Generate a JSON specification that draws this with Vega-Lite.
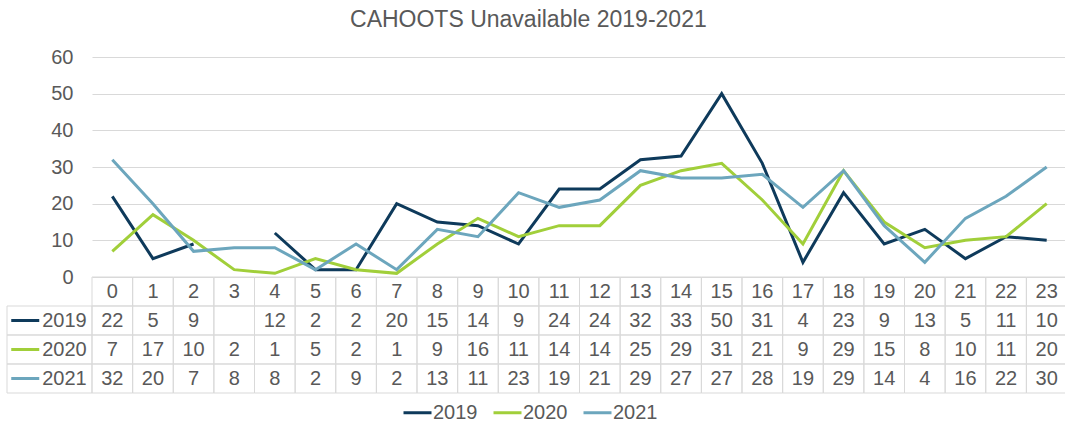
{
  "$schema": "https://vega.github.io/schema/vega-lite/v6.json",
  "padding": {"left": 5, "right": 0, "top": 9, "bottom": 0},
  "background": "white",
  "title": {"text": "CAHOOTS Unavailable 2019-2021", "fontSize": 23, "font": "Liberation Sans", "fontWeight": "normal", "color": "#595959", "anchor": "middle", "offset": 15, "dx": -8},
  "config": {"view": {"stroke": null}, "font": "Liberation Sans"},
  "datasets": {
    "d": [
      {"hour":0,"year":"2019","value":22},{"hour":1,"year":"2019","value":5},{"hour":2,"year":"2019","value":9},{"hour":3,"year":"2019","value":null},{"hour":4,"year":"2019","value":12},{"hour":5,"year":"2019","value":2},{"hour":6,"year":"2019","value":2},{"hour":7,"year":"2019","value":20},{"hour":8,"year":"2019","value":15},{"hour":9,"year":"2019","value":14},{"hour":10,"year":"2019","value":9},{"hour":11,"year":"2019","value":24},{"hour":12,"year":"2019","value":24},{"hour":13,"year":"2019","value":32},{"hour":14,"year":"2019","value":33},{"hour":15,"year":"2019","value":50},{"hour":16,"year":"2019","value":31},{"hour":17,"year":"2019","value":4},{"hour":18,"year":"2019","value":23},{"hour":19,"year":"2019","value":9},{"hour":20,"year":"2019","value":13},{"hour":21,"year":"2019","value":5},{"hour":22,"year":"2019","value":11},{"hour":23,"year":"2019","value":10},
      {"hour":0,"year":"2020","value":7},{"hour":1,"year":"2020","value":17},{"hour":2,"year":"2020","value":10},{"hour":3,"year":"2020","value":2},{"hour":4,"year":"2020","value":1},{"hour":5,"year":"2020","value":5},{"hour":6,"year":"2020","value":2},{"hour":7,"year":"2020","value":1},{"hour":8,"year":"2020","value":9},{"hour":9,"year":"2020","value":16},{"hour":10,"year":"2020","value":11},{"hour":11,"year":"2020","value":14},{"hour":12,"year":"2020","value":14},{"hour":13,"year":"2020","value":25},{"hour":14,"year":"2020","value":29},{"hour":15,"year":"2020","value":31},{"hour":16,"year":"2020","value":21},{"hour":17,"year":"2020","value":9},{"hour":18,"year":"2020","value":29},{"hour":19,"year":"2020","value":15},{"hour":20,"year":"2020","value":8},{"hour":21,"year":"2020","value":10},{"hour":22,"year":"2020","value":11},{"hour":23,"year":"2020","value":20},
      {"hour":0,"year":"2021","value":32},{"hour":1,"year":"2021","value":20},{"hour":2,"year":"2021","value":7},{"hour":3,"year":"2021","value":8},{"hour":4,"year":"2021","value":8},{"hour":5,"year":"2021","value":2},{"hour":6,"year":"2021","value":9},{"hour":7,"year":"2021","value":2},{"hour":8,"year":"2021","value":13},{"hour":9,"year":"2021","value":11},{"hour":10,"year":"2021","value":23},{"hour":11,"year":"2021","value":19},{"hour":12,"year":"2021","value":21},{"hour":13,"year":"2021","value":29},{"hour":14,"year":"2021","value":27},{"hour":15,"year":"2021","value":27},{"hour":16,"year":"2021","value":28},{"hour":17,"year":"2021","value":19},{"hour":18,"year":"2021","value":29},{"hour":19,"year":"2021","value":14},{"hour":20,"year":"2021","value":4},{"hour":21,"year":"2021","value":16},{"hour":22,"year":"2021","value":22},{"hour":23,"year":"2021","value":30}
    ]
  },
  "columns": 2,
  "spacing": 0,
  "bounds": "flush",
  "resolve": {"scale": {"color": "independent", "x": "independent", "y": "independent"}, "legend": {"color": "independent"}},
  "concat": [
    {
      "width": 85, "height": 220,
      "data": {"values": [{"t": ""}]},
      "mark": {"type": "text"},
      "encoding": {"text": {"field": "t"}}
    },
    {
      "width": 975, "height": 220,
      "data": {"name": "d"},
      "mark": {"type": "line", "strokeWidth": 3, "invalid": "break-paths-filter-domains"},
      "encoding": {
        "x": {"field": "hour", "type": "ordinal", "bandPosition": 0.5, "scale": {"type": "band", "paddingInner": 0, "paddingOuter": 0}, "axis": null},
        "y": {"field": "value", "type": "quantitative", "scale": {"domain": [0, 60], "nice": false, "zero": true},
              "axis": {"values": [0, 10, 20, 30, 40, 50, 60], "title": null, "grid": true, "gridColor": "#d9d9d9", "gridWidth": 1, "domain": false, "ticks": false, "labelPadding": 19, "labelFontSize": 20, "labelColor": "#595959", "labelFont": "Liberation Sans"}},
        "color": {"field": "year", "type": "nominal",
                  "scale": {"domain": ["2019", "2020", "2021"], "range": ["#0e3a5b", "#a1cf3a", "#6ca6bd"]},
                  "legend": {"orient": "none", "legendX": 310, "legendY": 340, "direction": "horizontal", "title": null, "symbolType": "stroke", "symbolSize": 784, "symbolStrokeWidth": 3, "labelFontSize": 20, "labelColor": "#595959", "labelFont": "Liberation Sans", "labelOffset": 0, "columnPadding": 9}}
      }
    },
    {
      "width": 85, "height": 116,
      "data": {"values": [{"year": "2019"}, {"year": "2020"}, {"year": "2021"}]},
      "encoding": {
        "y": {"field": "year", "type": "nominal", "scale": {"type": "band", "domain": ["hdr", "2019", "2020", "2021"], "paddingInner": 0, "paddingOuter": 0}, "axis": null}
      },
      "layer": [
        {"mark": {"type": "rect", "filled": false, "stroke": "#d9d9d9", "strokeWidth": 1}},
        {"mark": {"type": "point", "shape": "stroke", "size": 784, "strokeWidth": 3, "opacity": 1, "filled": false, "xOffset": -3},
         "encoding": {
           "x": {"datum": "key", "type": "nominal", "scale": {"type": "point", "domain": ["key", "label"], "padding": 0.5}, "axis": null},
           "color": {"field": "year", "type": "nominal", "scale": {"domain": ["2019", "2020", "2021"], "range": ["#0e3a5b", "#a1cf3a", "#6ca6bd"]}, "legend": null}
         }},
        {"mark": {"type": "text", "fontSize": 20, "color": "#595959", "align": "right", "dx": 16, "font": "Liberation Sans"},
         "encoding": {
           "x": {"datum": "label", "type": "nominal"},
           "text": {"field": "year"}
         }}
      ]
    },
    {
      "width": 975, "height": 116,
      "data": {"name": "d"},
      "encoding": {
        "x": {"field": "hour", "type": "ordinal", "scale": {"type": "band", "paddingInner": 0, "paddingOuter": 0}, "axis": null}
      },
      "layer": [
        {"mark": {"type": "rect", "filled": false, "stroke": "#d9d9d9", "strokeWidth": 1},
         "encoding": {"y": {"field": "year", "type": "nominal", "scale": {"type": "band", "domain": ["hdr", "2019", "2020", "2021"], "paddingInner": 0, "paddingOuter": 0}, "axis": null}}},
        {"transform": [{"filter": "datum.year == '2019'"}],
         "mark": {"type": "rect", "filled": false, "stroke": "#d9d9d9", "strokeWidth": 1},
         "encoding": {"y": {"datum": "hdr", "type": "nominal"}}},
        {"transform": [{"filter": "datum.year == '2019'"}],
         "mark": {"type": "text", "fontSize": 20, "color": "#595959", "font": "Liberation Sans"},
         "encoding": {"y": {"datum": "hdr", "type": "nominal"}, "text": {"field": "hour", "type": "nominal"}}},
        {"transform": [{"filter": "isValid(datum.value)"}],
         "mark": {"type": "text", "fontSize": 20, "color": "#595959", "font": "Liberation Sans"},
         "encoding": {"y": {"field": "year", "type": "nominal"}, "text": {"field": "value", "type": "quantitative"}}}
      ]
    }
  ]
}
